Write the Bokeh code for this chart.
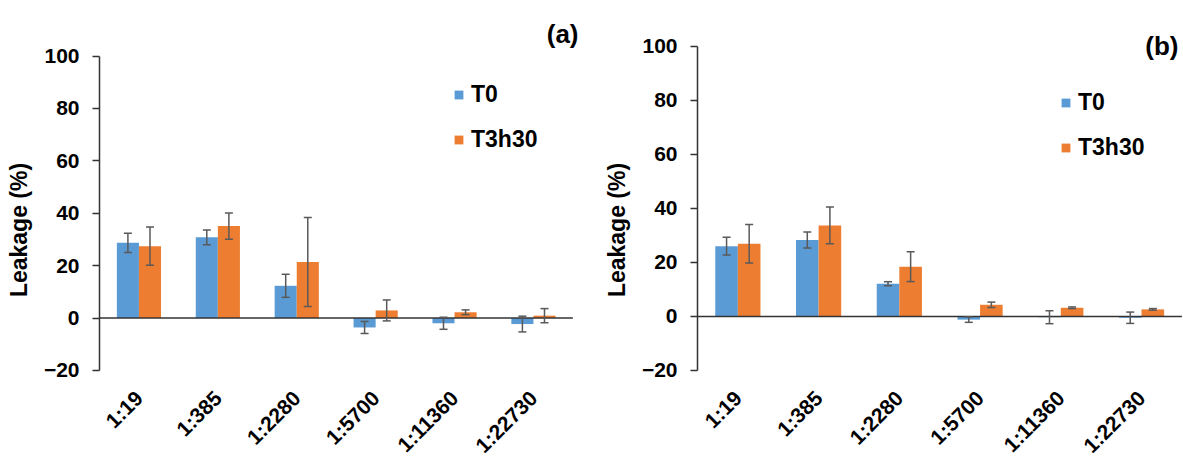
import numpy as np
from bokeh.plotting import figure
from bokeh.models import (ColumnDataSource, Whisker, TeeHead, Legend, LegendItem,
                          Label, Range1d, FixedTicker)
from bokeh.core.properties import value
from bokeh.layouts import row
from bokeh.embed import file_html
from bokeh.resources import INLINE

categories = ["1:19", "1:385", "1:2280", "1:5700", "1:11360", "1:22730"]
series = ["T0", "T3h30"]
y_ticks = [-20, 0, 20, 40, 60, 80, 100]

# panel (a)
a_t0 = [28.7, 30.8, 12.3, -3.6, -2.0, -2.3]
a_t0_err = [3.7, 2.8, 4.4, 2.3, 2.3, 3.0]
a_t3 = [27.4, 35.1, 21.4, 2.9, 2.2, 0.9]
a_t3_err = [7.3, 5.0, 17.0, 4.0, 0.9, 2.7]

# panel (b)
b_t0 = [26.0, 28.3, 12.1, -1.2, -0.3, -0.5]
b_t0_err = [3.3, 3.0, 0.75, 1.0, 2.4, 2.1]
b_t3 = [26.9, 33.7, 18.4, 4.3, 3.2, 2.6]
b_t3_err = [7.1, 6.8, 5.5, 1.0, 0.3, 0.3]

BLUE = "#5B9BD5"
ORANGE = "#ED7D31"
ERR = "#595959"
AXIS = "#333333"
FONT = "Liberation Sans"


def make_panel(t0, t0e, t3, t3e, tag, width, border_left, x_end, y_lo, y_hi,
               legend_loc, tag_loc):
    p = figure(width=width, height=459, title=None,
               x_range=Range1d(0, x_end), y_range=Range1d(y_lo, y_hi),
               output_backend="svg", toolbar_location=None,
               min_border=0, min_border_left=border_left, min_border_right=0,
               min_border_top=0, min_border_bottom=0)
    p.outline_line_color = None
    p.xgrid.visible = False
    p.ygrid.visible = False
    p.xaxis.visible = False
    p.background_fill_color = "white"
    p.border_fill_color = "white"

    n = len(categories)
    centers = np.arange(n) + 0.5
    bw = 0.28
    t0 = np.array(t0); t0e = np.array(t0e)
    t3 = np.array(t3); t3e = np.array(t3e)
    s0 = ColumnDataSource(dict(x=centers - bw / 2, top=t0, upper=t0 + t0e, lower=t0 - t0e))
    s3 = ColumnDataSource(dict(x=centers + bw / 2, top=t3, upper=t3 + t3e, lower=t3 - t3e))

    r0 = p.vbar(x="x", top="top", bottom=0, width=bw, source=s0,
                fill_color=BLUE, line_color=None)
    r3 = p.vbar(x="x", top="top", bottom=0, width=bw, source=s3,
                fill_color=ORANGE, line_color=None)

    # category axis baseline at zero
    p.segment(x0=[0], y0=[0], x1=[n], y1=[0], line_color=AXIS, line_width=1.5)

    for s in (s0, s3):
        w = Whisker(source=s, base="x", upper="upper", lower="lower",
                    line_color=ERR, line_width=1.5, level="overlay",
                    upper_head=TeeHead(size=8, line_color=ERR, line_width=1.5),
                    lower_head=TeeHead(size=8, line_color=ERR, line_width=1.5))
        p.add_layout(w)

    ya = p.yaxis[0]
    ya.bounds = (y_ticks[0], y_ticks[-1])
    ya.ticker = FixedTicker(ticks=y_ticks)
    ya.axis_label = "Leakage (%)"
    ya.axis_label_text_font = FONT
    ya.axis_label_text_font_style = "bold"
    ya.axis_label_text_font_size = "23px"
    ya.axis_label_text_color = "black"
    ya.axis_label_standoff = 9
    ya.major_label_text_font = FONT
    ya.major_label_text_font_style = "bold"
    ya.major_label_text_font_size = "21px"
    ya.major_label_text_color = "black"
    ya.major_label_standoff = 13
    ya.major_tick_out = 7
    ya.major_tick_in = 0
    ya.minor_tick_out = 0
    ya.minor_tick_in = 0
    ya.axis_line_color = AXIS
    ya.axis_line_width = 1.5
    ya.major_tick_line_color = AXIS
    ya.major_tick_line_width = 1.5

    # category labels (rotated), below the -20 end of the value axis
    p.text(x=centers, y=[y_ticks[0]] * n, text=categories,
           angle=np.pi / 4, text_align="right", text_baseline="middle",
           x_offset=0, y_offset=24,
           text_font=value(FONT), text_font_style="bold",
           text_font_size="21px", text_color="black")

    legend = Legend(items=[LegendItem(label=series[0], renderers=[r0]),
                           LegendItem(label=series[1], renderers=[r3])],
                    location=legend_loc, glyph_width=11, glyph_height=11,
                    label_text_font=FONT, label_text_font_style="bold",
                    label_text_font_size="23px", label_text_color="black",
                    label_standoff=7, padding=0, margin=0, spacing=18,
                    border_line_color=None, background_fill_alpha=0)
    p.add_layout(legend)

    p.add_layout(Label(x=tag_loc[0], y=tag_loc[1], x_units="screen", y_units="screen",
                       text=tag, text_font=FONT, text_font_style="bold",
                       text_font_size="26px", text_align="right",
                       text_baseline="middle", text_color="black"))
    return p


pa = make_panel(a_t0, a_t0_err, a_t3, a_t3_err, "(a)", width=600,
                border_left=99, x_end=6.35, y_lo=-54.0, y_hi=121.2,
                legend_loc=(354, 306), tag_loc=(479, 426))
pb = make_panel(b_t0, b_t0_err, b_t3, b_t3_err, "(b)", width=583,
                border_left=97, x_end=6.02, y_lo=-53.0, y_hi=117.0,
                legend_loc=(363, 298), tag_loc=(481, 414))

layout = row(pa, pb)
open("out.html", "w").write(file_html(layout, INLINE))
